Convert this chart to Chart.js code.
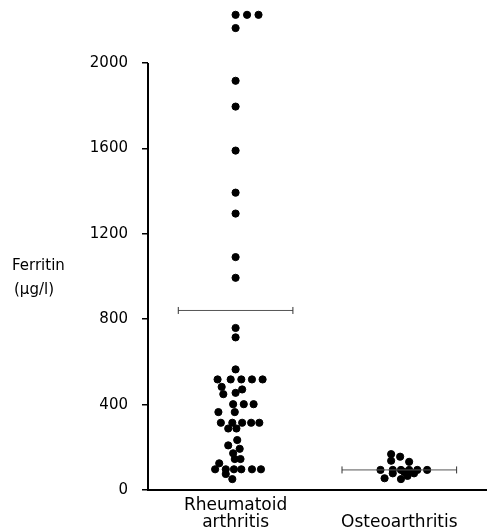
<!DOCTYPE html>
<html>
<head>
<meta charset="utf-8">
<script src="https://cdn.jsdelivr.net/npm/chart.js@4/dist/chart.umd.min.js"></script>
<style>
  html, body { margin: 0; padding: 0; background: #fff; }
  #wrap { width: 487px; height: 531px; }
</style>
</head>
<body>
<div id="wrap"><canvas id="myChart" width="487" height="531"></canvas></div>
<script>
// categories and their position on the x scale
const categories = [['Rheumatoid', 'arthritis'], ['', 'Osteoarthritis']];
const categoryPos = [1, 3];

// ferritin values (ug/l)
const raValues = [2226, 2226, 2226, 2164, 1917, 1796, 1590, 1393, 1295, 1091, 994, 759, 715, 565,
    518, 518, 518, 518, 518, 483, 471, 455, 449, 402, 402, 402, 365, 365,
    315, 315, 315, 315, 315, 288, 288, 234, 209, 193, 172, 145, 145, 125,
    97, 97, 97, 97, 97, 97, 75, 51];
// sideways spread of each dot (category units)
const raSpread = [0, 0.14, 0.28, 0, 0, 0, 0, 0, 0, 0, 0, 0, 0, 0,
    -0.22, -0.06, 0.07, 0.20, 0.33, -0.17, 0.08, 0, -0.15, -0.03, 0.10, 0.22, -0.21, -0.01,
    -0.18, -0.04, 0.08, 0.19, 0.29, -0.09, 0.01, 0.02, -0.09, 0.05, -0.03, -0.01, 0.06, -0.2,
    -0.25, -0.12, -0.02, 0.07, 0.20, 0.31, -0.12, -0.04];

const oaValues = [168, 156, 137, 132, 94, 94, 94, 94, 94, 94, 84, 78, 78, 66, 55, 51];
const oaSpread = [-0.10, 0.01, -0.10, 0.12, -0.23, -0.08, 0.02, 0.12, 0.22, 0.34, 0.06, -0.08, 0.18, 0.10, -0.18, 0.02];

const groupMeans = [841, 94];
const yTicks = [0, 400, 800, 1200, 1600, 2000];

function dots(values, spread, pos) {
    let pts = [];
    for (let i = 0; i < values.length; i++) {
        pts.push({ x: pos + spread[i], y: values[i] });
    }
    return pts;
}

function meanBar(mean, pos) {
    return [{ x: pos - 0.7, y: mean }, { x: pos + 0.7, y: mean }];
}

// axis lines: y only up to 2000, x across the whole width
const axisLines = {
    id: 'axisLines',
    afterDraw(chart) {
        const c = chart.ctx;
        const x = chart.scales.x, y = chart.scales.y;
        c.save();
        c.strokeStyle = '#000';
        c.lineWidth = 2;
        c.beginPath();
        c.moveTo(x.left, y.getPixelForValue(2000));
        c.lineTo(x.left, y.getPixelForValue(0));
        c.lineTo(chart.width, y.getPixelForValue(0));
        c.stroke();
        // y axis title, written horizontally
        c.fillStyle = '#000';
        c.font = '15px "DejaVu Sans"';
        c.textAlign = 'left';
        c.textBaseline = 'middle';
        c.fillText('Ferritin', 12, 266);
        c.fillText('(\u00b5g/l)', 14, 290);
        c.restore();
    }
};

const dotStyle = { backgroundColor: '#000', borderColor: '#000', pointRadius: 3.6, pointHoverRadius: 3.6, clip: false };
const barStyle = {
    type: 'line', borderColor: '#555', borderWidth: 1, pointStyle: 'line', pointRotation: 90,
    pointRadius: 3.5, pointBorderColor: '#333', pointBorderWidth: 1, fill: false
};

new Chart(document.getElementById('myChart').getContext('2d'), {
    type: 'scatter',
    data: {
        datasets: [
            Object.assign({ label: 'RA mean', data: meanBar(groupMeans[0], categoryPos[0]) }, barStyle),
            Object.assign({ label: 'OA mean', data: meanBar(groupMeans[1], categoryPos[1]) }, barStyle),
            Object.assign({ label: 'Rheumatoid arthritis', data: dots(raValues, raSpread, categoryPos[0]) }, dotStyle),
            Object.assign({ label: 'Osteoarthritis', data: dots(oaValues, oaSpread, categoryPos[1]) }, dotStyle)
        ]
    },
    options: {
        responsive: false,
        animation: false,
        layout: { padding: 0 },
        plugins: { legend: { display: false }, tooltip: { enabled: false } },
        scales: {
            x: {
                type: 'linear',
                min: -0.07,
                max: 4.01,
                afterFit: (s) => { s.height = 41; },
                afterBuildTicks: (s) => { s.ticks = categoryPos.map(v => ({ value: v })); },
                ticks: {
                    callback: (v) => categories[categoryPos.indexOf(v)],
                    color: '#000',
                    font: { family: 'DejaVu Sans', size: 17, lineHeight: 1.0 },
                    padding: -1,
                    maxRotation: 0
                },
                grid: { display: false },
                border: { display: false }
            },
            y: {
                min: 0,
                max: 2272,
                afterFit: (s) => { s.width = 148; s.paddingTop = 0; s.paddingBottom = 0; },
                afterBuildTicks: (s) => { s.ticks = yTicks.map(v => ({ value: v })); },
                ticks: {
                    callback: (v) => String(v),
                    color: '#000',
                    font: { family: 'DejaVu Sans', size: 15 },
                    padding: 14
                },
                grid: { drawOnChartArea: false, color: '#000', lineWidth: 1.5, tickLength: 6 },
                border: { display: false }
            }
        }
    },
    plugins: [axisLines]
});
</script>
</body>
</html>
